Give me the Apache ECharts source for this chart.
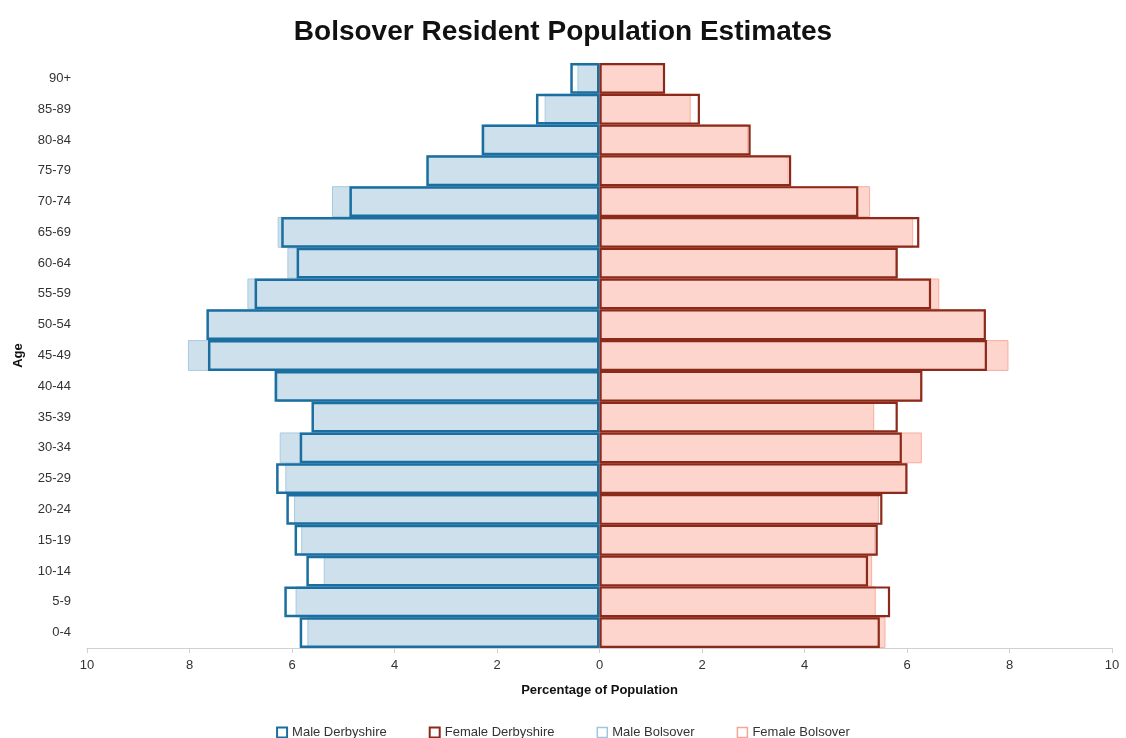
<!DOCTYPE html>
<html>
<head>
<meta charset="utf-8">
<script src="https://cdn.jsdelivr.net/npm/echarts@6/dist/echarts.min.js"></script>
<style>html,body{margin:0;padding:0;background:#fff;}#chart{width:1126px;height:738px;}</style>
</head>
<body>
<div id="chart"></div>
<script>
const ageGroups = ['0-4','5-9','10-14','15-19','20-24','25-29','30-34','35-39','40-44','45-49','50-54','55-59','60-64','65-69','70-74','75-79','80-84','85-89','90+'];
const maleDerbyshire   = [5.85, 6.15, 5.72, 5.95, 6.11, 6.31, 5.85, 5.62, 6.34, 7.64, 7.67, 6.73, 5.91, 6.21, 4.88, 3.38, 2.30, 1.24, 0.57];
const femaleDerbyshire = [5.47, 5.67, 5.24, 5.43, 5.52, 6.01, 5.90, 5.82, 6.30, 7.56, 7.54, 6.47, 5.82, 6.24, 5.05, 3.74, 2.95, 1.96, 1.28];
const maleBolsover     = [5.70, 5.93, 5.38, 5.82, 5.96, 6.13, 6.24, 5.60, 6.29, 8.03, 7.65, 6.87, 6.09, 6.28, 5.22, 3.36, 2.26, 1.07, 0.43];
const femaleBolsover   = [5.58, 5.39, 5.32, 5.38, 5.45, 5.99, 6.29, 5.36, 6.28, 7.98, 7.53, 6.63, 5.79, 6.12, 5.28, 3.69, 2.90, 1.78, 1.27];
const xTicks = [-10, 10, 2];

const chart = echarts.init(document.getElementById('chart'));
const neg = a => a.map(v => -v);
const font = 'Liberation Sans, Arial, sans-serif';
chart.setOption({
  animation: false,
  textStyle: { fontFamily: font },
  title: {
    text: 'Bolsover Resident Population Estimates',
    left: 'center', top: 13,
    textStyle: { fontSize: 28, fontWeight: 'bold', color: '#111', fontFamily: font }
  },
  legend: {
    top: 721,
    left: 'center',
    itemWidth: 10, itemHeight: 10, itemGap: 42,
    icon: 'rect',
    textStyle: { fontSize: 13, color: '#333', fontFamily: font },
    data: [
      { name: 'Male Derbyshire', itemStyle: { color: '#fff', borderColor: '#1b6fa0', borderWidth: 2 } },
      { name: 'Female Derbyshire', itemStyle: { color: '#fff', borderColor: '#8b2a1a', borderWidth: 2 } },
      { name: 'Male Bolsover', itemStyle: { color: '#fff', borderColor: '#9fc6de', borderWidth: 1.5 } },
      { name: 'Female Bolsover', itemStyle: { color: '#fff', borderColor: '#f6a696', borderWidth: 1.5 } }
    ]
  },
  grid: { left: 87, right: 14, top: 63, bottom: 90 },
  xAxis: {
    type: 'value',
    min: xTicks[0], max: xTicks[1], interval: xTicks[2],
    name: 'Percentage of Population',
    nameLocation: 'middle', nameGap: 36,
    nameTextStyle: { fontSize: 13, fontWeight: 'bold', color: '#111', fontFamily: font },
    axisLine: { show: true, onZero: false, lineStyle: { color: '#d0d0d0' } },
    axisTick: { show: true, length: 5, lineStyle: { color: '#d0d0d0' } },
    axisLabel: { fontSize: 13, color: '#333', margin: 11, formatter: v => Math.abs(v) },
    splitLine: { show: false }
  },
  yAxis: {
    type: 'category',
    data: ageGroups,
    name: 'Age',
    nameLocation: 'middle', nameGap: 62, nameRotate: 90,
    nameTextStyle: { fontSize: 13, fontWeight: 'bold', color: '#111', fontFamily: font },
    axisLine: { show: false, onZero: false },
    axisTick: { show: false },
    axisLabel: { fontSize: 13, color: '#333', margin: 16 },
    splitLine: { show: false }
  },
  series: [
    { name: 'Male Bolsover', type: 'bar', stack: 'bol', data: neg(maleBolsover),
      barCategoryGap: '0%', barGap: '-100%',
      itemStyle: { color: '#cde0ec', borderColor: '#a8cbe0', borderWidth: 1 } },
    { name: 'Female Bolsover', type: 'bar', stack: 'bol', data: femaleBolsover,
      itemStyle: { color: '#fdd5cc', borderColor: '#f9ae9f', borderWidth: 1 } },
    { name: 'Male Derbyshire', type: 'bar', stack: 'der', data: neg(maleDerbyshire),
      barCategoryGap: '0%', barGap: '-100%',
      itemStyle: { color: 'rgba(0,0,0,0)', borderColor: '#1b6fa0', borderWidth: 2.5 } },
    { name: 'Female Derbyshire', type: 'bar', stack: 'der', data: femaleDerbyshire,
      itemStyle: { color: 'rgba(0,0,0,0)', borderColor: '#8b2a1a', borderWidth: 2.2 } }
  ]
});
</script>
</body>
</html>
